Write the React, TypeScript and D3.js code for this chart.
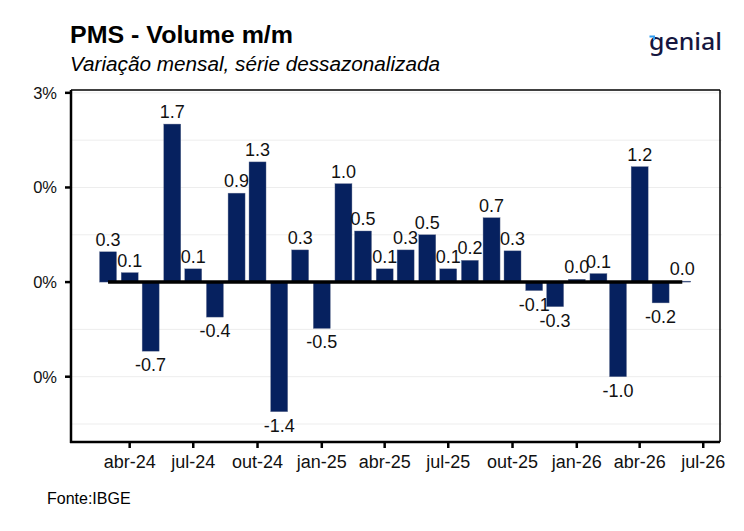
import React from "react"
import * as d3 from "d3"

const months = [
  "2024-03", "2024-04", "2024-05", "2024-06", "2024-07", "2024-08", "2024-09",
  "2024-10", "2024-11", "2024-12", "2025-01", "2025-02", "2025-03", "2025-04",
  "2025-05", "2025-06", "2025-07", "2025-08", "2025-09", "2025-10", "2025-11",
  "2025-12", "2026-01", "2026-02", "2026-03", "2026-04", "2026-05", "2026-06",
]
const values = [
  0.32, 0.1, -0.73, 1.67, 0.14, -0.37, 0.94, 1.27, -1.37, 0.34, -0.49, 1.04, 0.54, 0.14,
  0.34, 0.5, 0.14, 0.23, 0.68, 0.33, -0.09, -0.26, 0.03, 0.09, -1.0, 1.22, -0.22, 0.01,
]
const yTicks = [2, 1, 0, -1]
const yTickLabels = ["3%", "0%", "0%", "0%"]
const yGrid = [2, 1.5, 1, 0.5, -0.5, -1, -1.5]
const xTicks = ["2024-04", "2024-07", "2024-10", "2025-01", "2025-04", "2025-07", "2025-10", "2026-01", "2026-04", "2026-07"]
const monthNames = ["jan", "fev", "mar", "abr", "mai", "jun", "jul", "ago", "set", "out", "nov", "dez"]

const W = 744
const H = 531
const left = 71
const right = 720
const top = 90
const bottom = 442
const font = "'Liberation Sans', Arial, sans-serif"
const navy = "#06215F"

const parse = (s: string) => {
  const [y, m] = s.split("-").map(Number)
  return new Date(y, m - 1, 1)
}
const fmt = (d: Date) => `${monthNames[d.getMonth()]}-${String(d.getFullYear()).slice(2)}`

export default function App() {
  const data = months.map((m, i) => ({ date: parse(m), value: values[i] }))

  const x = d3.scaleTime()
    .domain([new Date(2024, 0, 8), new Date(2026, 6, 25)])
    .range([left, right])
  const y = d3.scaleLinear().domain([-1.69, 2.03]).range([bottom, top])

  const barW = 17
  const x0 = x(data[0].date)
  const x1 = x(data[data.length - 1].date)

  return (
    <svg width={W} height={H} style={{ position: "absolute", left: 0, top: 0, background: "#fff" }} fontFamily={font}>
      <text x={70} y={43} fontSize={24.5} fontWeight="bold" fill="#000"
        textLength={223} lengthAdjust="spacingAndGlyphs">PMS - Volume m/m</text>
      <text x={70} y={71} fontSize={20.5} fontStyle="italic" fill="#000"
        textLength={370} lengthAdjust="spacingAndGlyphs">Variação mensal, série dessazonalizada</text>

      {/* logo */}
      <g>
        <text x={649} y={50} fontSize={23} fontFamily="'Noto Sans', sans-serif" fontWeight={500}
          fill="#15163F" textLength={73} lengthAdjust="spacingAndGlyphs">genial</text>
        <path d="M649.5,35.5 L655,35.5 L655,40 L653,40 L653,37.5 L649.5,37.5 Z" fill="#2E9BF0" />
      </g>

      {/* grid */}
      {yGrid.map((g) => (
        <line key={g} x1={left} x2={right + 2} y1={y(g)} y2={y(g)} stroke="#EDEDED" strokeWidth={1} />
      ))}

      {/* bars */}
      {data.map((d, i) => {
        const yv = y(d.value)
        const y0 = y(0)
        return (
          <rect key={i} x={x(d.date) - barW / 2} y={Math.min(yv, y0)} width={barW}
            height={Math.abs(y0 - yv)} fill={navy} stroke="#6B7796" strokeWidth={0.4} />
        )
      })}

      {/* zero line */}
      <line x1={x0} x2={x1} y1={y(0)} y2={y(0)} stroke="#000" strokeWidth={3.5} />

      {/* value labels */}
      {data.map((d, i) => (
        <text key={i} x={x(d.date)} y={d.value >= 0 ? y(d.value) - 6 : y(d.value) + 20}
          textAnchor="middle" fontSize={18} fill="#111">{d.value.toFixed(1)}</text>
      ))}

      {/* panel */}
      <line x1={left} x2={left} y1={top} y2={bottom + 1} stroke="#000" strokeWidth={2.5} />
      <line x1={left - 1} x2={right} y1={bottom} y2={bottom} stroke="#000" strokeWidth={2.5} />
      <line x1={left} x2={right} y1={top} y2={top} stroke="#000" strokeWidth={1.5} />
      <line x1={right} x2={right} y1={top} y2={bottom} stroke="#000" strokeWidth={1.5} />

      {/* y axis */}
      {yTicks.map((t, i) => (
        <g key={t}>
          <line x1={left - 6} x2={left} y1={y(t)} y2={y(t)} stroke="#000" strokeWidth={2.5} />
          <text x={57} y={y(t) + 6} textAnchor="end" fontSize={16.5} fill="#111">{yTickLabels[i]}</text>
        </g>
      ))}

      {/* x axis */}
      {xTicks.map((t) => {
        const d = parse(t)
        return (
          <g key={t}>
            <line x1={x(d)} x2={x(d)} y1={bottom} y2={bottom + 6} stroke="#000" strokeWidth={2.5} />
            <text x={x(d)} y={468} textAnchor="middle" fontSize={18} fill="#111">{fmt(d)}</text>
          </g>
        )
      })}

      <text x={47} y={504} fontSize={16} fill="#000">Fonte:IBGE</text>
    </svg>
  )
}
